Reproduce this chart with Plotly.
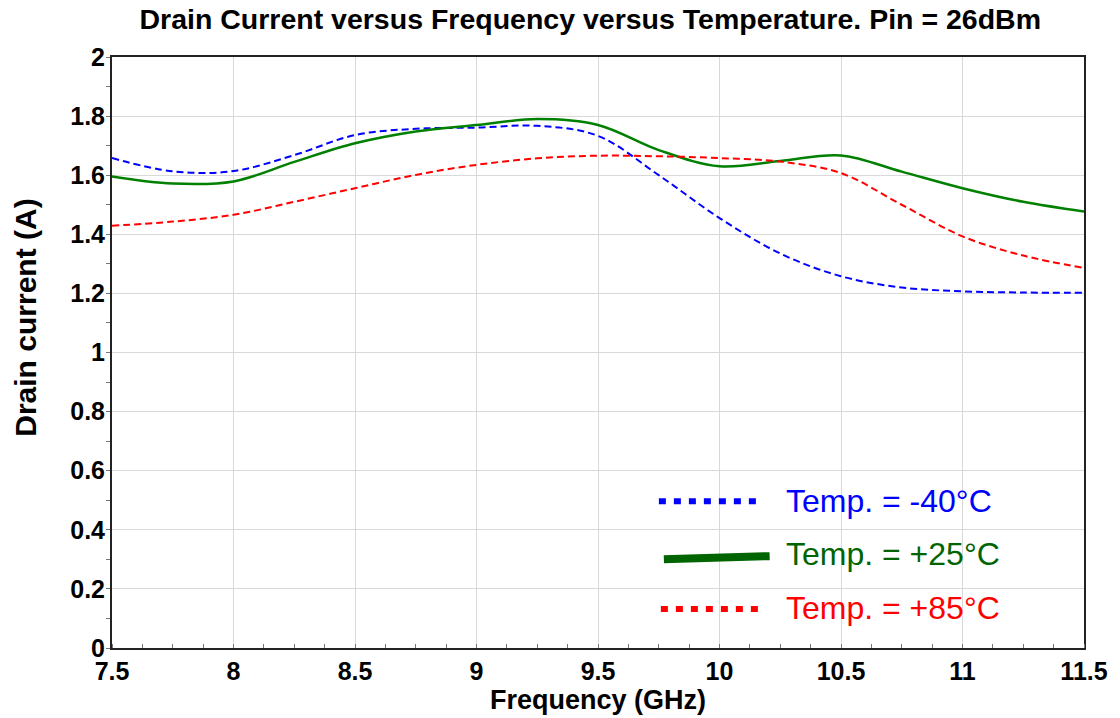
import plotly.graph_objects as go

# Frequency sweep (GHz)
freq = [7.5, 7.75, 8.0, 8.25, 8.5, 8.75, 9.0, 9.25, 9.5, 9.75,
        10.0, 10.25, 10.5, 10.75, 11.0, 11.25, 11.5]

# Drain current (A) per temperature
cur_m40 = [1.658, 1.613, 1.614, 1.668, 1.736, 1.757, 1.761, 1.767, 1.733, 1.600,
           1.455, 1.335, 1.258, 1.220, 1.207, 1.203, 1.202]
cur_p25 = [1.596, 1.572, 1.579, 1.645, 1.708, 1.748, 1.770, 1.790, 1.770, 1.685,
           1.630, 1.648, 1.667, 1.612, 1.556, 1.510, 1.477]
cur_p85 = [1.429, 1.443, 1.466, 1.510, 1.556, 1.601, 1.635, 1.657, 1.666, 1.664,
           1.658, 1.646, 1.607, 1.500, 1.393, 1.328, 1.286]

labels = ["Temp. = -40°C", "Temp. = +25°C", "Temp. = +85°C"]

x_ticks = [7.5, 8, 8.5, 9, 9.5, 10, 10.5, 11, 11.5]
x_tick_text = ["7.5", "8", "8.5", "9", "9.5", "10", "10.5", "11", "11.5"]
y_ticks = [0, 0.2, 0.4, 0.6, 0.8, 1, 1.2, 1.4, 1.6, 1.8, 2]
y_tick_text = ["0", "0.2", "0.4", "0.6", "0.8", "1", "1.2", "1.4", "1.6", "1.8", "2"]

FONT = "Liberation Sans, Arial, sans-serif"

fig = go.Figure()
fig.add_trace(go.Scatter(x=freq, y=cur_m40, mode="lines", name=labels[0],
                         line=dict(color="#0000FF", width=2, dash="7px,4px",
                                   shape="spline", smoothing=1.0)))
fig.add_trace(go.Scatter(x=freq, y=cur_p25, mode="lines", name=labels[1],
                         line=dict(color="#008000", width=2.5,
                                   shape="spline", smoothing=1.0)))
fig.add_trace(go.Scatter(x=freq, y=cur_p85, mode="lines", name=labels[2],
                         line=dict(color="#FF0000", width=2, dash="7px,4px",
                                   shape="spline", smoothing=1.0)))

# Plot area geometry in pixels, used to place the hand-drawn legend
L, R, T, B = 112, 1086, 57, 649
W_, H_ = R - L, B - T


def px(xp):
    return (xp - L) / W_


def py(yp):
    return (B - yp) / H_


legend_items = [
    # (x0, y0, x1, y1, colour, width, dash, text colour, text y)
    (660, 502, 760, 502, "#0000FF", 6, "7px,8px", "#0000FF", 502),
    (665, 560, 771, 557, "#006400", 8, "solid", "#006400", 555),
    (662, 610, 762, 610, "#FF0000", 6, "7px,8px", "#FF0000", 609),
]
for (x0, y0, x1, y1, col, w, dash, tcol, ty), lab in zip(legend_items, labels):
    fig.add_shape(type="line", xref="paper", yref="paper",
                  x0=px(x0), y0=py(y0), x1=px(x1), y1=py(y1),
                  line=dict(color=col, width=w, dash=dash))
    fig.add_annotation(xref="paper", yref="paper", x=px(785), y=py(ty),
                       xanchor="left", yanchor="middle", showarrow=False,
                       text=lab, font=dict(family=FONT, size=32, color=tcol))

# Y axis title, drawn as a rotated annotation
fig.add_annotation(xref="paper", yref="paper", x=px(25), y=py(318),
                   xanchor="center", yanchor="middle", showarrow=False,
                   textangle=-90, text="Drain current (A)",
                   font=dict(family=FONT, size=30, color="black", weight="bold"))

fig.update_layout(
    width=1120, height=718,
    margin=dict(l=L, r=1120 - R, t=T, b=718 - B),
    paper_bgcolor="white", plot_bgcolor="white",
    showlegend=False,
    title=dict(text="Drain Current versus Frequency versus Temperature. Pin = 26dBm",
               x=0.527, xanchor="center", y=0.973, yanchor="middle",
               font=dict(family=FONT, size=28.5, color="black", weight="bold")),
    font=dict(family=FONT, color="black"),
)

fig.update_xaxes(
    range=[7.5, 11.5], tickvals=x_ticks, ticktext=x_tick_text,
    tickfont=dict(family=FONT, size=25, color="black", weight="bold"),
    title=dict(text="Frequency (GHz)",
               font=dict(family=FONT, size=27, weight="bold"), standoff=2),
    showgrid=True, gridcolor="#d9d9d9", gridwidth=1,
    showline=True, linecolor="#222222", linewidth=2, mirror=True,
    ticks="", zeroline=False,
    minor=dict(dtick=0.125, ticks="inside", ticklen=4, tickcolor="#777777", showgrid=False),
)
fig.update_yaxes(
    range=[0, 2], tickvals=y_ticks, ticktext=y_tick_text,
    tickfont=dict(family=FONT, size=25, color="black", weight="bold"),
    showgrid=True, gridcolor="#d9d9d9", gridwidth=1,
    showline=True, linecolor="#222222", linewidth=2, mirror=True,
    ticks="", zeroline=False,
    minor=dict(dtick=0.1, ticks="outside", ticklen=4, tickcolor="#777777", showgrid=False),
)

fig.write_html("out.html")
